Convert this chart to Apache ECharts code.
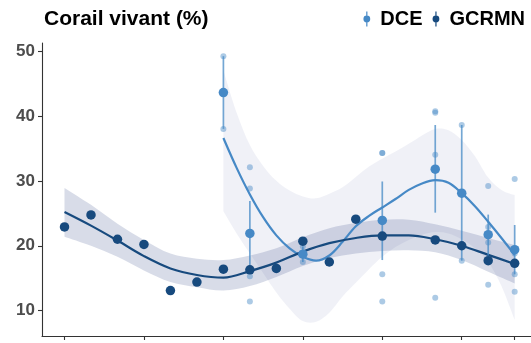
<!DOCTYPE html>
<html>
<head>
<meta charset="utf-8">
<script src="https://cdn.jsdelivr.net/npm/echarts@6/dist/echarts.min.js"></script>
<style>
  html, body { margin: 0; padding: 0; background: #ffffff; }
  #chart { width: 531px; height: 343px; }
</style>
</head>
<body>
<div id="chart"></div>
<script>
// ---- GCRMN: annual mean live coral cover ----
const gcrmnYears  = [2003, 2004, 2005, 2006, 2007, 2008, 2009, 2010, 2011, 2012, 2013, 2014, 2015, 2017, 2018, 2019, 2020];
const gcrmnValues = [22.9, 24.75, 21.0, 20.2, 13.1, 14.4, 16.4, 16.3, 16.5, 20.7, 17.5, 24.1, 21.5, 20.9, 20.0, 17.7, 17.3];

// GCRMN smoothed trend and its confidence band
const gcrmnFitYears = [2003, 2004, 2005, 2006, 2007, 2008, 2009, 2010, 2011, 2012, 2013, 2014, 2015, 2016, 2017, 2018, 2019, 2020];
const gcrmnFit      = [25.2, 23.1, 20.8, 18.4, 16.5, 15.5, 15.1, 16.1, 17.4, 19.1, 20.4, 21.2, 21.6, 21.6, 21.0, 20.0, 18.6, 17.2];
const gcrmnLow      = [21.4, 20.0, 18.3, 16.2, 14.4, 13.6, 13.1, 13.8, 15.2, 16.9, 18.1, 18.8, 19.2, 19.3, 19.0, 17.8, 16.0, 14.2];
const gcrmnHigh     = [28.9, 26.3, 23.4, 20.9, 18.8, 18.0, 17.8, 18.5, 19.6, 21.3, 22.7, 23.5, 24.0, 24.0, 23.3, 22.3, 21.2, 20.1];

// ---- DCE: mean per year with standard-error bars ----
const dceYears  = [2009, 2010, 2012, 2015, 2017, 2018, 2019, 2020];
const dceMeans  = [43.6, 21.9, 18.7, 23.9, 31.8, 28.1, 21.7, 19.4];
const dceErrLow = [38.0, 16.9, 17.5, 17.8, 25.1, 17.7, 18.5, 15.6];
const dceErrHigh= [49.2, 26.9, 19.9, 29.9, 38.6, 38.6, 24.8, 23.2];

// DCE individual stations
const dceSiteYears  = [2009, 2009, 2010, 2010, 2010, 2010, 2012, 2012, 2015, 2015, 2015, 2015,
                       2017, 2017, 2017, 2017, 2018, 2018, 2019, 2019, 2019, 2019, 2020, 2020, 2020, 2020];
const dceSiteValues = [49.2, 38.0, 32.1, 28.8, 15.3, 11.4, 19.9, 17.5, 34.3, 34.3, 15.6, 11.4,
                       40.7, 40.5, 34.0, 12.0, 38.6, 17.7, 29.2, 22.9, 20.5, 14.0, 30.3, 18.8, 15.6, 12.9];

// DCE smoothed trend and its confidence band (half-year steps)
const dceFitYears = [2009, 2009.5, 2010, 2010.5, 2011, 2011.5, 2012, 2012.5, 2013, 2013.5, 2014, 2014.5,
                     2015, 2015.5, 2016, 2016.5, 2017, 2017.5, 2018, 2018.5, 2019, 2019.5, 2020];
const dceFit  = [36.6, 32.0, 27.9, 24.4, 21.6, 19.6, 18.3, 17.7, 18.5, 20.6, 23.0, 24.6,
                 25.9, 27.2, 28.6, 29.6, 30.1, 29.7, 28.1, 26.1, 23.7, 21.2, 18.6];
const dceLow  = [25.3, 21.9, 18.8, 15.8, 12.8, 10.3, 8.4, 8.3, 9.7, 12.2, 14.3, 16.4,
                 18.3, 19.8, 20.9, 21.7, 22.1, 21.9, 21.0, 19.6, 17.5, 13.8, 8.6];
const dceHigh = [47.0, 40.5, 35.5, 32.3, 30.0, 28.5, 27.6, 27.3, 28.0, 29.0, 30.6, 32.2,
                 33.4, 34.5, 35.7, 37.0, 38.0, 37.8, 36.3, 33.8, 30.5, 28.6, 27.8];

// axis ticks
const yTicks = [10, 20, 30, 40, 50];
const xTicks = [2003, 2006, 2009, 2012, 2015, 2018, 2020];

const DCE_COLOR = '#4689c6';
const GCRMN_COLOR = '#174a7e';
const FONT = '"Liberation Sans", Arial, sans-serif';

const pairs = (xs, ys) => xs.map((x, i) => [x, ys[i]]);

// cubic Catmull-Rom segments through pixel points
function splineSegments(pts) {
  let d = '';
  for (let i = 0; i < pts.length - 1; i++) {
    const p0 = pts[i - 1] || pts[i], p1 = pts[i], p2 = pts[i + 1], p3 = pts[i + 2] || p2;
    const c1x = p1[0] + (p2[0] - p0[0]) / 6, c1y = p1[1] + (p2[1] - p0[1]) / 6;
    const c2x = p2[0] - (p3[0] - p1[0]) / 6, c2y = p2[1] - (p3[1] - p1[1]) / 6;
    d += ' C' + c1x + ',' + c1y + ' ' + c2x + ',' + c2y + ' ' + p2[0] + ',' + p2[1];
  }
  return d;
}

// confidence ribbon: one filled shape between the low and high curves
function ribbon(name, xs, lo, hi, fill) {
  return {
    name: name, type: 'custom', silent: true, z: 1,
    data: xs.map((x, i) => [x, lo[i], hi[i]]),
    renderItem: function (params, api) {
      if (params.dataIndex !== 0) return null;
      const up = xs.map((x, i) => api.coord([x, hi[i]]));
      const down = xs.map((x, i) => api.coord([x, lo[i]])).reverse();
      const d = 'M' + up[0][0] + ',' + up[0][1] + splineSegments(up) +
                ' L' + down[0][0] + ',' + down[0][1] + splineSegments(down) + ' Z';
      return { type: 'path', shape: { pathData: d }, style: { fill: fill, stroke: null } };
    }
  };
}

// point-range glyph: thin vertical bar with a dot in the middle
const legendIcon = 'path://M3.8,0H5V15H3.8Z M4.4,4.1A3.4,3.4 0 1 1 4.39,4.1Z';

const chart = echarts.init(document.getElementById('chart'), null, { renderer: 'canvas' });

chart.setOption({
  animation: false,
  backgroundColor: '#ffffff',
  title: {
    text: 'Corail vivant (%)',
    left: 39, top: 4,
    textStyle: { fontFamily: FONT, fontSize: 21, fontWeight: 'bold', color: '#000000' }
  },
  legend: {
    right: 1, top: 4,
    itemWidth: 7, itemHeight: 15, itemGap: 10,
    textStyle: { fontFamily: FONT, fontSize: 20, fontWeight: 'bold', color: '#000000',
                 padding: [0, 0, 0, 5] },
    data: [
      { name: 'DCE', icon: legendIcon },
      { name: 'GCRMN', icon: legendIcon }
    ]
  },
  grid: { left: 42, right: 0, top: 43, bottom: 7, containLabel: false },
  xAxis: {
    type: 'value', min: 2002.15, max: 2020.616,
    axisLine: { lineStyle: { color: '#333333', width: 1.1 } },
    axisTick: { customValues: xTicks, length: 4, lineStyle: { color: '#333333', width: 1.1 } },
    axisLabel: { show: false },
    splitLine: { show: false }
  },
  yAxis: {
    type: 'value', min: 6.1, max: 51.23,
    axisLine: { show: true, lineStyle: { color: '#333333', width: 1.1 } },
    axisTick: { show: true, customValues: yTicks, length: 4, lineStyle: { color: '#333333', width: 1.1 } },
    axisLabel: { customValues: yTicks, margin: 7, color: '#4d4d4d', fontFamily: FONT,
                 fontSize: 17, fontWeight: 'bold' },
    splitLine: { show: false }
  },
  series: [
    ribbon('DCE-band', dceFitYears, dceLow, dceHigh, 'rgba(62,78,150,0.08)'),
    ribbon('GCRMN-band', gcrmnFitYears, gcrmnLow, gcrmnHigh, 'rgba(62,78,140,0.2)'),
    {
      name: 'DCE-fit', type: 'line', symbol: 'none', smooth: 0.35, silent: true, z: 3,
      data: pairs(dceFitYears, dceFit),
      lineStyle: { color: DCE_COLOR, width: 2.2 }
    },
    {
      name: 'GCRMN-fit', type: 'line', symbol: 'none', smooth: 0.35, silent: true, z: 3,
      data: pairs(gcrmnFitYears, gcrmnFit),
      lineStyle: { color: GCRMN_COLOR, width: 2.2 }
    },
    {
      name: 'DCE-sites', type: 'scatter', symbolSize: 6, z: 4, silent: true,
      data: pairs(dceSiteYears, dceSiteValues),
      itemStyle: { color: DCE_COLOR, opacity: 0.45 }
    },
    {
      name: 'DCE-err', type: 'custom', z: 5, silent: true,
      data: dceYears.map((y, i) => [y, dceErrLow[i], dceErrHigh[i]]),
      renderItem: function (params, api) {
        const lo = api.coord([api.value(0), api.value(1)]);
        const hi = api.coord([api.value(0), api.value(2)]);
        return {
          type: 'line',
          shape: { x1: lo[0], y1: lo[1], x2: hi[0], y2: hi[1] },
          style: { stroke: DCE_COLOR, lineWidth: 1.7, opacity: 0.75 }
        };
      }
    },
    {
      name: 'GCRMN', type: 'scatter', symbolSize: 9.5, z: 6,
      data: pairs(gcrmnYears, gcrmnValues),
      itemStyle: { color: GCRMN_COLOR, opacity: 1 }
    },
    {
      name: 'DCE', type: 'scatter', symbolSize: 9.5, z: 6,
      data: pairs(dceYears, dceMeans),
      itemStyle: { color: DCE_COLOR, opacity: 1 }
    }
  ]
});
</script>
</body>
</html>
